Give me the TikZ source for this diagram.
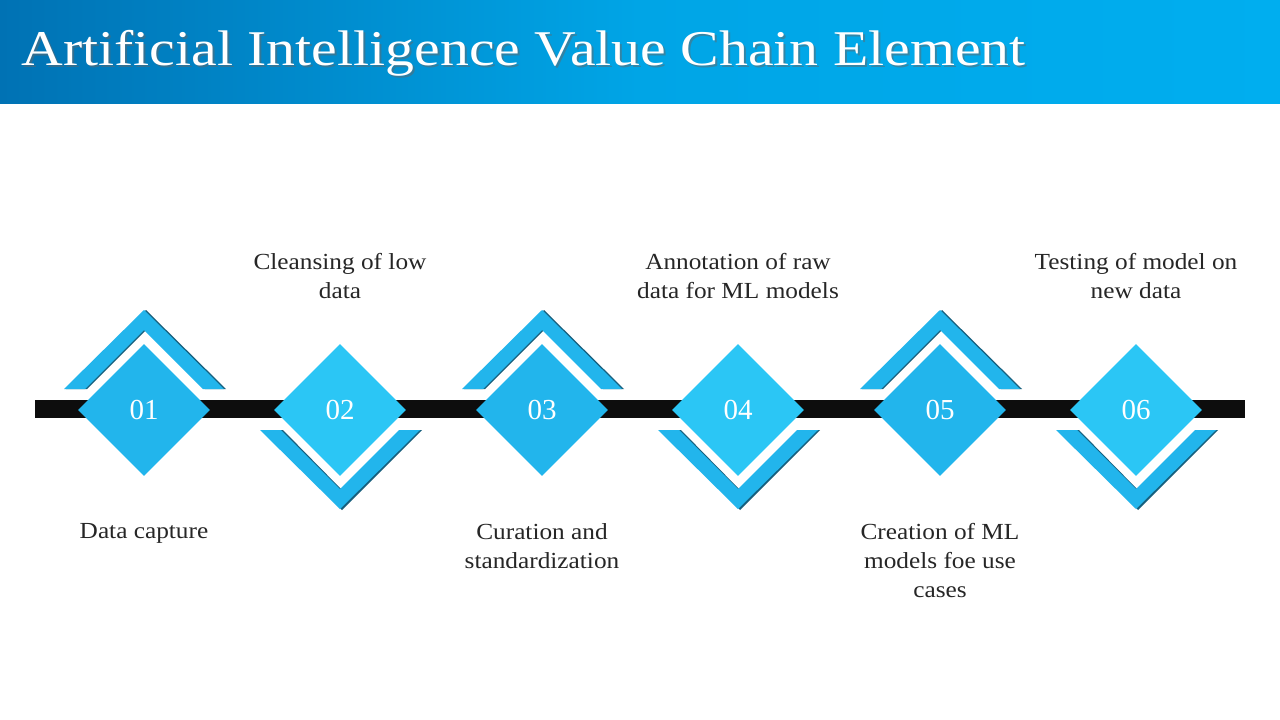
\documentclass[tikz,border=0pt]{standalone}
\usepackage{fontspec}
\setmainfont{Liberation Serif}
\usetikzlibrary{shapes.geometric,positioning}
\definecolor{titledark}{HTML}{0072B4}
\definecolor{titlelight}{HTML}{00AEEF}
\definecolor{oddblue}{HTML}{22B5EC}
\definecolor{evenblue}{HTML}{2BC6F5}
\definecolor{shadeblue}{HTML}{17607E}
\tikzset{
  stage/.style={diamond, minimum width=132pt, minimum height=132pt, inner sep=0pt,
    text=white, font=\fontsize{29}{29}\selectfont},
  label/.style={align=center, font=\fontsize{23}{29}\selectfont, text=black!85},
  chev/.style={fill=oddblue},
  chevshade/.style={fill=shadeblue}
}
\newcommand{\wide}[1]{\scalebox{1.1}[1]{#1}}
\newcommand{\chevup}[1]{%
  \fill[chevshade] (#1-78,389) -- (#1+2,310) -- (#1+82,389) -- (#1+61,389) -- (#1+2,330) -- (#1-57,389) -- cycle;
  \fill[chev] (#1-80,389) -- (#1,310) -- (#1+80,389) -- (#1+59,389) -- (#1,330) -- (#1-59,389) -- cycle;}
\newcommand{\chevdown}[1]{%
  \fill[chevshade] (#1-78,430) -- (#1+2,510) -- (#1+82,430) -- (#1+61,430) -- (#1+2,490) -- (#1-57,430) -- cycle;
  \fill[chev] (#1-80,430) -- (#1,509) -- (#1+80,430) -- (#1+59,430) -- (#1,489) -- (#1-59,430) -- cycle;}
\begin{document}
\begin{tikzpicture}[x=1pt, y=-1pt]
    \useasboundingbox (0,0) rectangle (1280,720);
    \fill[white] (0,0) rectangle (1280,720);
    \shade[left color=titledark, right color=titlelight, middle color=titlelight!85!titledark] (0,0) rectangle (1280,103);
    \node (titleshadow) [anchor=west, text=black!60, opacity=0.5, font=\fontsize{50}{50}\selectfont] at (20,55) {\scalebox{1.155}[1]{Artificial Intelligence Value Chain Element}};
    \node (title) [anchor=west, text=white, font=\fontsize{50}{50}\selectfont] at (18,53) {\scalebox{1.155}[1]{Artificial Intelligence Value Chain Element}};

    % timeline bar
    \coordinate (barL) at (35,409);
    \coordinate (barR) at (1245,409);
    \draw[line width=18pt, black!95] (barL) -- (barR);

    % chevrons
    \chevup{144} \chevdown{340} \chevup{542} \chevdown{738} \chevup{940} \chevdown{1136}

    % stages
    \node (S1) [stage, fill=oddblue] at (144,410) {01};
    \node (S2) [stage, fill=evenblue] at (340,410) {02};
    \node (S3) [stage, fill=oddblue] at (542,410) {03};
    \node (S4) [stage, fill=evenblue] at (738,410) {04};
    \node (S5) [stage, fill=oddblue] at (940,410) {05};
    \node (S6) [stage, fill=evenblue] at (1136,410) {06};

    % labels
    \node (L1) [label, anchor=north] at (144,520) {\wide{Data capture}};
    \node (L2) [label, anchor=south] at (340,302) {\wide{Cleansing of low}\\\wide{data}};
    \node (L3) [label, anchor=north] at (542,520) {\wide{Curation and}\\\wide{standardization}};
    \node (L4) [label, anchor=south] at (738,302) {\wide{Annotation of raw}\\\wide{data for ML models}};
    \node (L5) [label, anchor=north] at (940,520) {\wide{Creation of ML}\\\wide{models foe use}\\\wide{cases}};
    \node (L6) [label, anchor=south] at (1136,302) {\wide{Testing of model on}\\\wide{new data}};
\end{tikzpicture}
\end{document}
